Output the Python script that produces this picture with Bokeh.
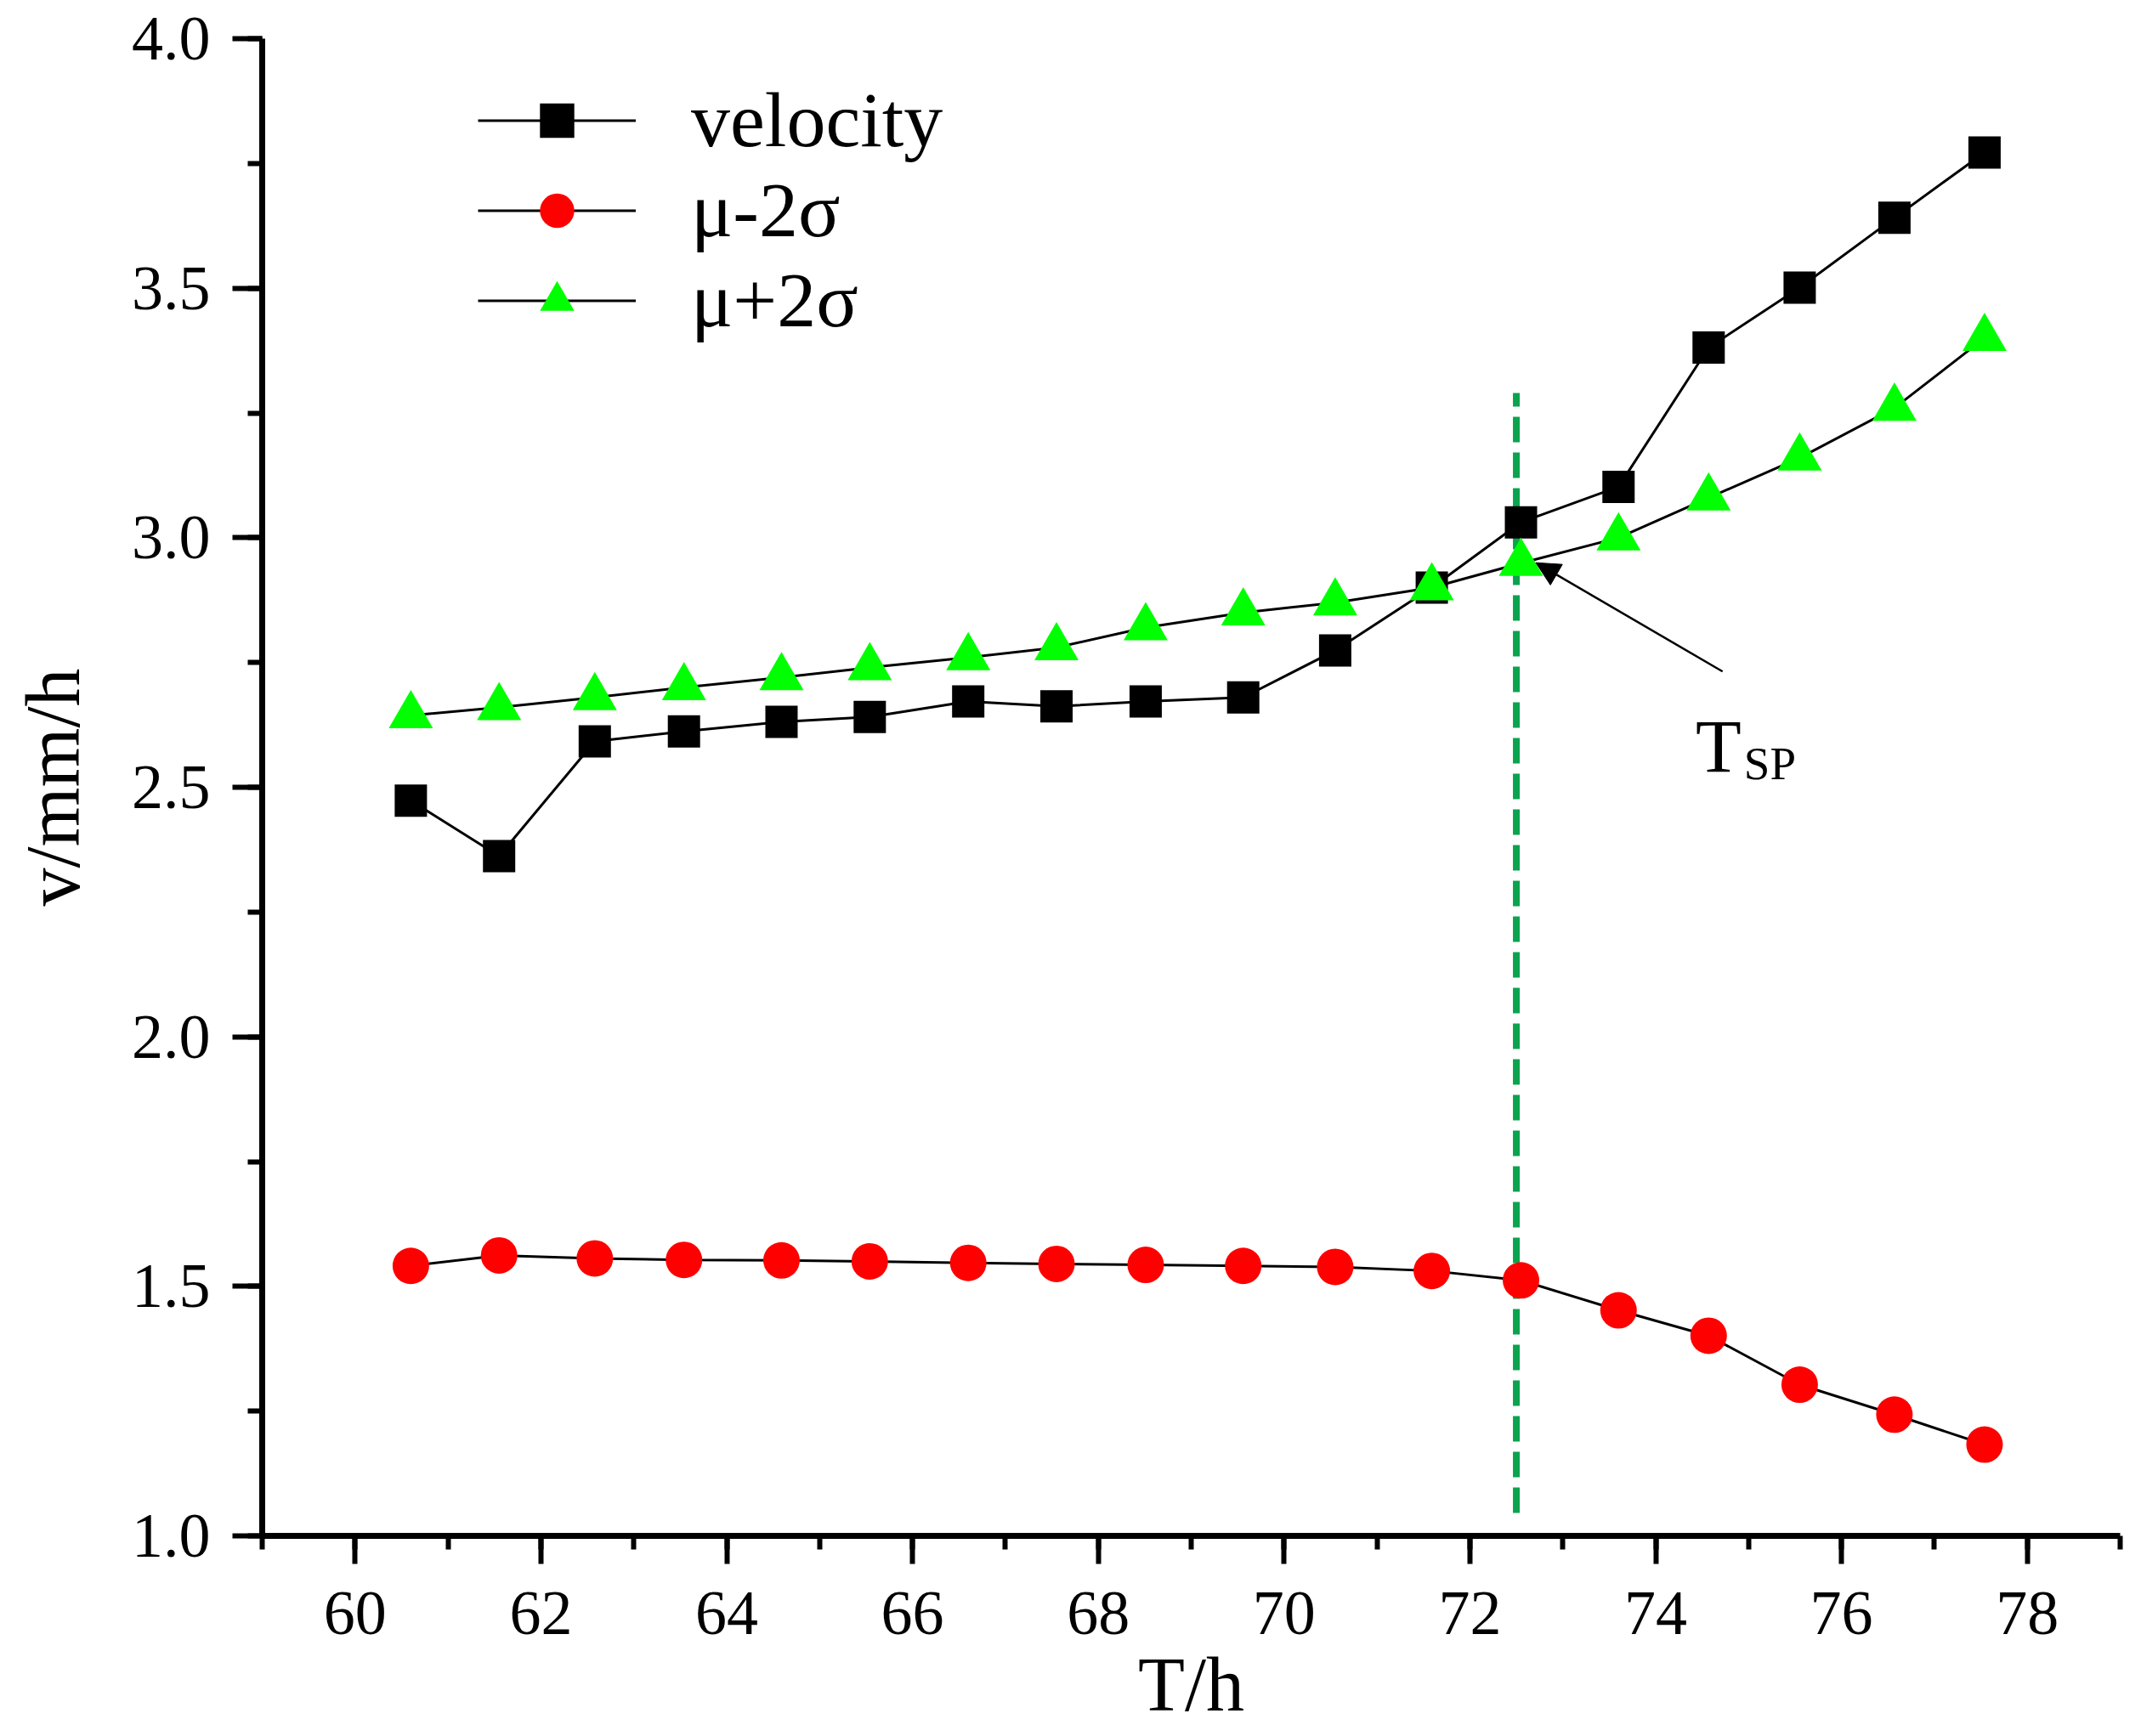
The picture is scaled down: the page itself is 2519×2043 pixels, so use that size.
from bokeh.plotting import figure
from bokeh.models import (Range1d, SingleIntervalTicker, PrintfTickFormatter, Legend,
                          LegendItem, Arrow, NormalHead, Label)
from bokeh.embed import file_html
from bokeh.resources import INLINE

# ---- data ----
time_h = [60.60, 61.55, 62.58, 63.54, 64.59, 65.54, 66.60, 67.55, 68.51,
          69.56, 70.55, 71.59, 72.55, 73.60, 74.57, 75.55, 76.57, 77.54]
velocity = [2.473, 2.362, 2.592, 2.612, 2.631, 2.641, 2.672, 2.662, 2.672,
            2.680, 2.774, 2.900, 3.031, 3.102, 3.381, 3.501, 3.641, 3.772]
mu_minus_2sigma = [1.541, 1.562, 1.556, 1.553, 1.552, 1.550, 1.547, 1.545, 1.543,
                   1.541, 1.539, 1.531, 1.512, 1.452, 1.401, 1.303, 1.243, 1.183]
mu_plus_2sigma = [2.644, 2.660, 2.680, 2.700, 2.720, 2.740, 2.760, 2.780, 2.820,
                  2.850, 2.870, 2.900, 2.949, 3.000, 3.080, 3.160, 3.260, 3.400]

series_labels = ["velocity", "\u03bc-2\u03c3", "\u03bc+2\u03c3"]
x_label = "T/h"
y_label = "v/mm/h"

# T_SP marker line and annotation
tsp_x = [72.5]
tsp_y0 = [1.046]
tsp_y1 = [3.29]
arrow_start = (74.72, 2.732)
arrow_end = (72.71, 2.95)
tsp_text = ("T", "SP")
tsp_text_pos = [(74.43, 2.582), (74.95, 2.548)]

FONT = "Liberation Serif"

p = figure(width=2510, height=2040, output_backend="svg", toolbar_location=None,
           x_range=Range1d(59, 79), y_range=Range1d(1.0, 4.0),
           min_border_left=308, min_border_right=16, min_border_top=45,
           min_border_bottom=233)
p.outline_line_color = None
p.xgrid.visible = False
p.ygrid.visible = False
p.background_fill_color = "white"
p.border_fill_color = "white"

# axes
for ax in (p.xaxis[0], p.yaxis[0]):
    ax.axis_line_width = 7
    ax.axis_line_color = "black"
    ax.major_tick_line_width = 6
    ax.minor_tick_line_width = 6
    ax.major_tick_in = 0
    ax.minor_tick_in = 0
    ax.major_label_text_font = FONT
    ax.major_label_text_font_size = "74px"
    ax.major_label_text_color = "black"
    ax.axis_label_text_font = FONT
    ax.axis_label_text_font_size = "90px"
    ax.axis_label_text_font_style = "normal"
    ax.axis_label_text_color = "black"

p.xaxis.ticker = SingleIntervalTicker(interval=2, num_minor_ticks=2)
p.xaxis.formatter = PrintfTickFormatter(format="%d")
p.xaxis.major_tick_out = 33
p.xaxis.minor_tick_out = 16
p.xaxis.major_label_standoff = 33
p.xaxis.axis_label = x_label
p.xaxis.axis_label_standoff = 7

p.yaxis.ticker = SingleIntervalTicker(interval=0.5, num_minor_ticks=2)
p.yaxis.formatter = PrintfTickFormatter(format="%.1f")
p.yaxis.major_tick_out = 35
p.yaxis.minor_tick_out = 17
p.yaxis.major_label_standoff = 26
p.yaxis.axis_label = y_label
p.yaxis.axis_label_standoff = 40

# T_SP vertical dashed line
p.segment(x0=tsp_x, y0=tsp_y0, x1=tsp_x, y1=tsp_y1, line_color="#0BA34E",
          line_width=8, line_dash="30 12")

# series
l1 = p.line(time_h, velocity, line_color="black", line_width=3)
s1 = p.scatter(time_h, velocity, marker="square", size=38, fill_color="black",
               line_color=None)
l2 = p.line(time_h, mu_minus_2sigma, line_color="black", line_width=3)
s2 = p.scatter(time_h, mu_minus_2sigma, marker="circle", size=43, fill_color="#FF0000",
               line_color=None)
l3 = p.line(time_h, mu_plus_2sigma, line_color="black", line_width=3)
s3 = p.scatter(time_h, mu_plus_2sigma, marker="triangle", size=52, fill_color="#00FF00",
               line_color=None)

# arrow + label
p.add_layout(Arrow(end=NormalHead(size=28, fill_color="black", line_color="black", line_width=1),
                   x_start=arrow_start[0], y_start=arrow_start[1],
                   x_end=arrow_end[0], y_end=arrow_end[1],
                   line_color="black", line_width=2.5))
p.add_layout(Label(x=tsp_text_pos[0][0], y=tsp_text_pos[0][1], text=tsp_text[0],
                   text_font=FONT, text_font_size="88px", text_color="black",
                   text_align="left", text_baseline="alphabetic"))
p.add_layout(Label(x=tsp_text_pos[1][0], y=tsp_text_pos[1][1], text=tsp_text[1],
                   text_font=FONT, text_font_size="55px", text_color="black",
                   text_align="left", text_baseline="alphabetic"))

legend = Legend(items=[LegendItem(label=series_labels[0], renderers=[l1, s1]),
                       LegendItem(label=series_labels[1], renderers=[l2, s2]),
                       LegendItem(label=series_labels[2], renderers=[l3, s3])],
                location=(254, 1401), orientation="vertical",
                label_text_font=FONT, label_text_font_size="92px",
                label_text_color="black",
                glyph_width=186, glyph_height=101, label_height=101,
                spacing=0, padding=0, margin=0, label_standoff=65,
                border_line_alpha=0, background_fill_alpha=0)
p.add_layout(legend)

open("out.html", "w").write(file_html(p, INLINE))
